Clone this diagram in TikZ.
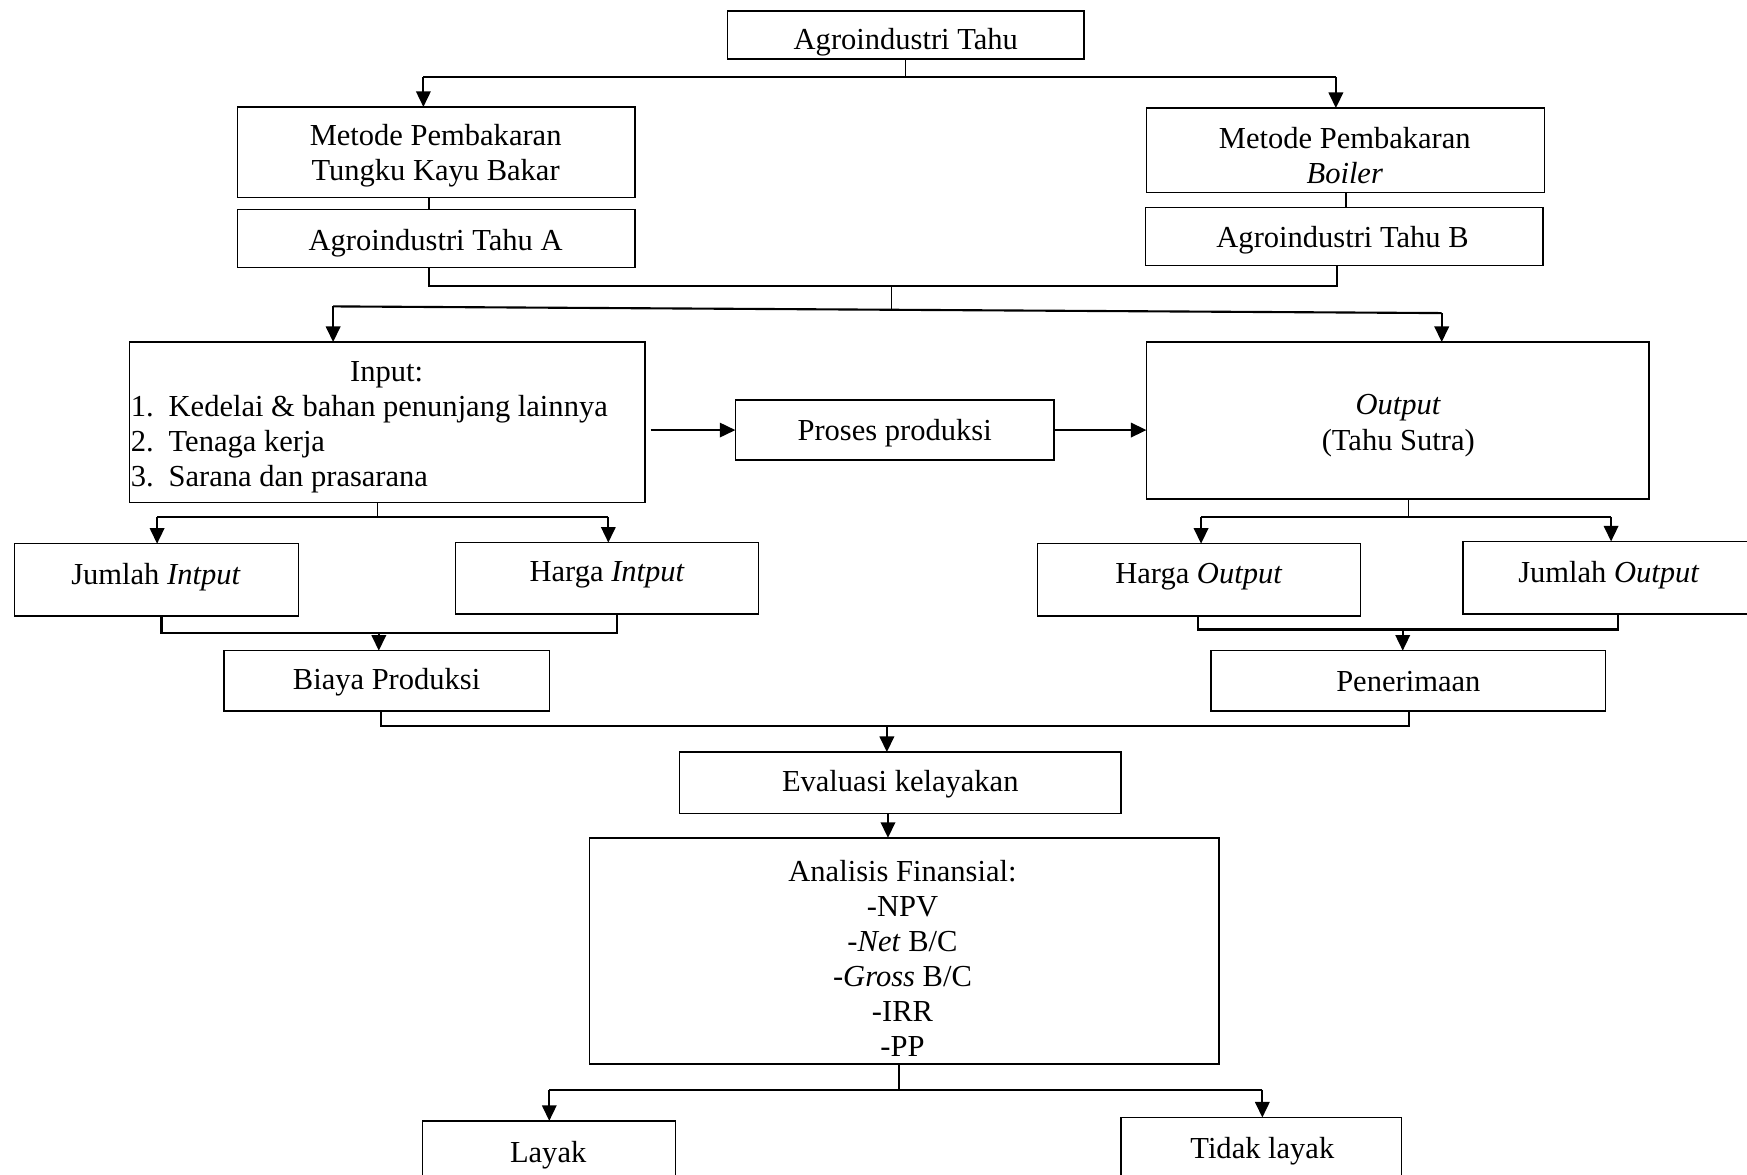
\documentclass[tikz,border=0pt]{standalone}
\usepackage{fontspec}
\setmainfont{Liberation Serif}
\usetikzlibrary{arrows.meta,calc}
\newcommand\fsz{\fontsize{13.7pt}{15.75pt}\selectfont}
\newcommand\bx[5]{\node[boxst, minimum width={(#4-#2)*0.5pt}, minimum height={(#5-#3)*0.5pt}] (#1) at ({(#2+#4)/2},{(#3+#5)/2}) {};}
\tikzset{
  boxst/.style={draw, line width=0.6pt, inner sep=0pt, outer sep=0pt, rectangle},
  txt/.style={inner sep=0pt, font=\fsz, align=center},
  conn/.style={line width=0.95pt},
  stem/.style={line width=0.6pt},
  arr/.style={line width=0.9pt, -{Triangle[length=7pt,width=6.5pt]}},
}
\begin{document}
\begin{tikzpicture}[x=0.5pt,y=-0.5pt]
\useasboundingbox (0,0) rectangle (1568,1054);
\fill[white] (0,0) rectangle (1568,1054);
\clip (0,0) rectangle (1568,1054);

% boxes
\bx{top}{653}{10}{973}{53}
\bx{metA}{213}{96}{570}{177}
\bx{tahuA}{213}{188}{570}{240}
\bx{metB}{1029}{97}{1386}{173}
\bx{tahuB}{1028}{186}{1385}{238}
\bx{input}{116}{307}{579}{451}
\bx{proses}{660}{359}{946}{413}
\bx{output}{1029}{307}{1480}{448}
\bx{jumIn}{13}{488}{268}{553}
\bx{hargaIn}{409}{487}{681}{551}
\bx{biaya}{201}{584}{493}{638}
\bx{hargaOut}{931}{488}{1221}{553}
\bx{jumOut}{1313}{486}{1600}{551}
\bx{pener}{1087}{584}{1441}{638}
\bx{eval}{610}{675}{1006}{730}
\bx{anal}{529}{752}{1094}{955}
\bx{layak}{379}{1006}{606}{1090}
\bx{tidak}{1006}{1003}{1258}{1090}

% texts
\node[txt] (ttop) at (813,38) {Agroindustri Tahu};
\node[txt] (tmetA) at (391,140) {Metode Pembakaran\\Tungku Kayu Bakar};
\node[txt] (ttahuA) at (391,218) {Agroindustri Tahu A};
\node[txt] (tmetB) at (1207,140) {Metode Pembakaran\\\textit{Boiler}};
\node[txt] (ttahuB) at (1205,216) {Agroindustri Tahu B};
\node[txt] (tinput) at (347,336) {Input:};
\node[txt, align=left, anchor=west] (tlist) at (117,399) {\makebox[17pt][l]{1.}Kedelai \& bahan penunjang lainnya\\\makebox[17pt][l]{2.}Tenaga kerja\\\makebox[17pt][l]{3.}Sarana dan prasarana};
\node[txt] (tproses) at (803,389) {Proses produksi};
\node[txt] (toutput) at (1255,382) {\textit{Output}\\(Tahu Sutra)};
\node[txt] (tjumIn) at (140,518) {Jumlah \textit{Intput}};
\node[txt] (thargaIn) at (545,516) {Harga \textit{Intput}};
\node[txt] (tbiaya) at (347,612) {Biaya Produksi};
\node[txt] (thargaOut) at (1076,518) {Harga \textit{Output}};
\node[txt] (tjumOut) at (1444,516) {Jumlah \textit{Output}};
\node[txt] (tpener) at (1264,612) {Penerimaan};
\node[txt] (teval) at (808,704) {Evaluasi kelayakan};
\node[txt] (tanal) at (810,860) {Analisis Finansial:\\-NPV\\-\textit{Net} B/C\\-\textit{Gross} B/C\\-IRR\\-PP};
\node[txt] (tlayak) at (492,1037) {Layak};
\node[txt] (ttidak) at (1133,1033) {Tidak layak};

% junction coordinates
\coordinate (j1) at (813,69);
\coordinate (j1a) at (380,69);
\coordinate (j1b) at (1199,69);
\coordinate (xA) at (385,0);
\coordinate (xB) at (1208,0);
\coordinate (j2a) at (385,257);
\coordinate (j2b) at (1200,257);
\coordinate (j2m) at (800,257);
\coordinate (j3m) at (800,278);
\coordinate (j3a) at (299,275);
\coordinate (j3b) at (1294,281);
\coordinate (j4) at (339,464);
\coordinate (j4a) at (141,464);
\coordinate (j4b) at (546,464);
\coordinate (j5a) at (145,568);
\coordinate (j5b) at (554,568);
\coordinate (j5m) at (340,568);
\coordinate (j6) at (1264,464);
\coordinate (j6a) at (1078,464);
\coordinate (j6b) at (1446,464);
\coordinate (j7a) at (1075,565);
\coordinate (j7b) at (1452,565);
\coordinate (j7m) at (1259,565);
\coordinate (j8a) at (342,652);
\coordinate (j8b) at (1265,652);
\coordinate (j8m) at (796,652);
\coordinate (x9) at (797,0);
\coordinate (j10) at (807,978);
\coordinate (j10a) at (493,978);
\coordinate (j10b) at (1133,978);

% connectors
\draw[stem] (top.south -| j1) -- (j1);
\draw[conn] (j1a) -- (j1b);
\draw[arr] (j1a) -- (j1a |- metA.north);
\draw[arr] (j1b) -- (j1b |- metB.north);
\draw[stem] (metA.south -| xA) -- (tahuA.north -| xA);
\draw[stem] (metB.south -| xB) -- (tahuB.north -| xB);
\draw[conn] (tahuA.south -| j2a) -- (j2a) -- (j2b) -- (tahuB.south -| j2b);
\draw[stem] (j2m) -- (j3m);
\draw[conn] (j3a) -- (j3b);
\draw[arr] (j3a) -- (j3a |- input.north);
\draw[arr] (j3b) -- (j3b |- output.north);
\draw[arr, shorten <=2.5pt] (input.east |- proses.west) -- (proses.west);
\draw[arr] (proses.east) -- (output.west |- proses.east);
\draw[stem] (input.south -| j4) -- (j4);
\draw[conn] (j4a) -- (j4b);
\draw[arr] (j4a) -- (j4a |- jumIn.north);
\draw[arr] (j4b) -- (j4b |- hargaIn.north);
\draw[conn] (jumIn.south -| j5a) -- (j5a) -- (j5b) -- (hargaIn.south -| j5b);
\draw[arr] (j5m) -- (j5m |- biaya.north);
\draw[stem] (output.south -| j6) -- (j6);
\draw[conn] (j6a) -- (j6b);
\draw[arr] (j6a) -- (j6a |- hargaOut.north);
\draw[arr] (j6b) -- (j6b |- jumOut.north);
\draw[conn] (hargaOut.south -| j7a) -- (j7a) -- (j7b) -- (jumOut.south -| j7b);
\draw[arr] (j7m) -- (j7m |- pener.north);
\draw[conn] (biaya.south -| j8a) -- (j8a) -- (j8b) -- (pener.south -| j8b);
\draw[arr] (j8m) -- (j8m |- eval.north);
\draw[arr] (eval.south -| x9) -- (anal.north -| x9);
\draw[stem] (anal.south -| j10) -- (j10);
\draw[conn] (j10a) -- (j10b);
\draw[arr] (j10a) -- (j10a |- layak.north);
\draw[arr] (j10b) -- (j10b |- tidak.north);
\end{tikzpicture}
\end{document}
